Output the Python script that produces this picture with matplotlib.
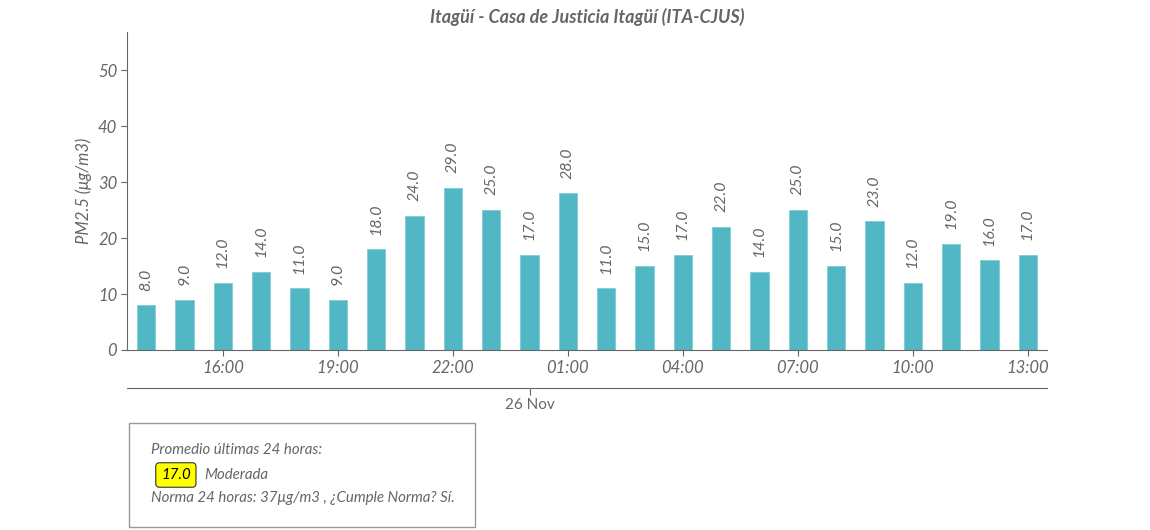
import matplotlib
matplotlib.use('Agg')
from matplotlib import pyplot as plt
from matplotlib.patches import Rectangle

hours = ['14:00', '15:00', '16:00', '17:00', '18:00', '19:00', '20:00', '21:00',
         '22:00', '23:00', '00:00', '01:00', '02:00', '03:00', '04:00', '05:00',
         '06:00', '07:00', '08:00', '09:00', '10:00', '11:00', '12:00', '13:00']
pm25 = [8, 9, 12, 14, 11, 9, 18, 24, 29, 25, 17, 28,
        11, 15, 17, 22, 14, 25, 15, 23, 12, 19, 16, 17]
tick_hours = ['16:00', '19:00', '22:00', '01:00', '04:00', '07:00', '10:00', '13:00']
date_label = '26 Nov'
date_hour = '00:00'

title = 'Itagüí - Casa de Justicia Itagüí (ITA-CJUS)'
ylabel = 'PM2.5 (μg/m3)'
promedio = 17.0
categoria = 'Moderada'
norma = 'Norma 24 horas: 37μg/m3 , ¿Cumple Norma? Sí.'

gray = '#666666'
bar_color = '#52b7c5'
plt.rcParams['font.family'] = ['Lato', 'DejaVu Sans']

W, H = 1150, 530
fig = plt.figure(figsize=(W / 100, H / 100), dpi=100)

# main axes in pixel positions
ax = fig.add_axes([127 / W, (H - 350) / H, 920 / W, 318 / H])
x = list(range(len(hours)))
ax.bar(x, pm25, width=0.47, color=bar_color, edgecolor='#7fcbd6', linewidth=0.6)
for xi, v in zip(x, pm25):
    ax.text(xi, v + 2.6, f'{v:.1f}', rotation=90, ha='center', va='bottom',
            fontsize=11.5, style='italic', color=gray)

ax.set_xlim(-0.5, len(hours) - 0.5)
ax.set_ylim(0, 56.8)
ax.set_yticks([0, 10, 20, 30, 40, 50])
ax.set_xticks([hours.index(h) for h in tick_hours])
ax.set_xticklabels(tick_hours)
ax.tick_params(axis='x', length=4, color=gray, labelcolor=gray, labelsize=12, pad=3)
ax.tick_params(axis='y', length=4, color=gray, labelcolor=gray, labelsize=12, pad=3)
for lab in ax.get_xticklabels() + ax.get_yticklabels():
    lab.set_style('italic')
ax.spines['top'].set_visible(False)
ax.spines['right'].set_visible(False)
ax.spines['left'].set_color(gray)
ax.spines['bottom'].set_color(gray)
ax.set_ylabel(ylabel, fontsize=12, style='italic', color=gray, labelpad=4)
fig.text(587 / W, 1 - 17 / H, title, ha='center', va='center', fontsize=13,
         style='italic', weight='bold', color=gray)

# date axis below
ax2 = fig.add_axes([127 / W, (H - 388) / H, 920 / W, 0.001])
ax2.set_xlim(ax.get_xlim())
ax2.set_yticks([])
ax2.set_xticks([hours.index(date_hour)])
ax2.set_xticklabels([date_label])
ax2.tick_params(axis='x', length=5, color=gray, labelcolor=gray, labelsize=11, pad=2)
for s in ['top', 'left', 'right']:
    ax2.spines[s].set_visible(False)
ax2.spines['bottom'].set_color(gray)
ax2.patch.set_visible(False)

# info box
fig.patches.append(Rectangle((129 / W, 1 - 527 / H), 346 / W, 104 / H,
                             transform=fig.transFigure, fill=False,
                             edgecolor='#999999', linewidth=1))
fig.text(151 / W, 1 - 450 / H, 'Promedio últimas 24 horas:', fontsize=10.8,
         style='italic', color=gray, va='center')
fig.text(161 / W, 1 - 475 / H, f'{promedio:.1f}', fontsize=10.8, style='italic',
         color='black', va='center',
         bbox=dict(boxstyle='round,pad=0.35,rounding_size=0.25', facecolor='yellow',
                   edgecolor='#333333', linewidth=0.8))
fig.text(204 / W, 1 - 475 / H, categoria, fontsize=10.8, style='italic', color=gray,
         va='center')
fig.text(151 / W, 1 - 498 / H, norma, fontsize=10.8, style='italic', color=gray,
         va='center')

fig.savefig('out.png', dpi=100)
